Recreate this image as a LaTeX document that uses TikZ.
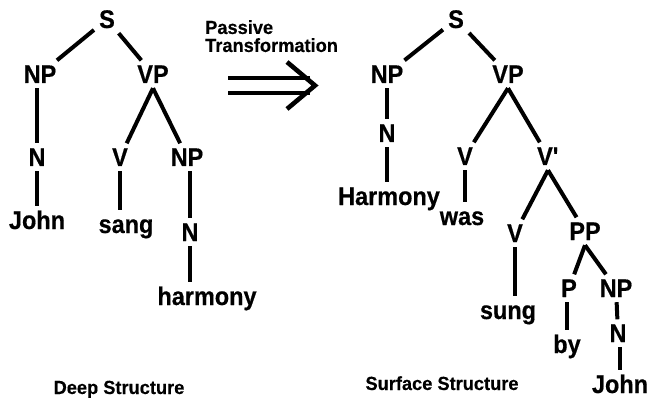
\documentclass[tikz,border=0pt]{standalone}
\usepackage{fontspec}
\setmainfont{Liberation Sans}
\newfontfamily\treefont[FakeStretch=0.92, FakeBold=0.5]{Liberation Sans Bold}
\newfontfamily\notefont[FakeStretch=0.96, FakeBold=0.3]{Liberation Sans Bold}
\begin{document}
\begin{tikzpicture}[x=1pt,y=-1pt,
  tag/.style={font=\fontsize{25.5}{27}\treefont, anchor=base,
    inner xsep=5pt, inner ysep=5pt, text height=17.5pt, text depth=0pt},
  caption/.style={font=\fontsize{19}{21}\notefont, anchor=base, inner sep=0pt},
  branch/.style={line width=4pt},
  arrowbar/.style={line width=4.6pt}]
\useasboundingbox (0,0) rectangle (650,398);

% ---- deep structure ----
\node[tag] (dS)    at (107,28)  {S};
\node[tag] (dNPa)  at (40,83)   {NP};
\node[tag] (dVP)   at (153,83)  {VP};
\node[tag] (dN1)   at (37,166)  {N};
\node[tag] (dV)    at (120,166) {V};
\node[tag] (dNPb)  at (187,166) {NP};
\node[tag] (dJohn) at (37,229)  {John};
\node[tag] (dsang) at (126,233) {sang};
\node[tag] (dN2)   at (190,241) {N};
\node[tag] (dharm) at (207,305) {harmony};
\node[caption] (deep) at (119,394) {Deep Structure};

\draw[branch] (dS) -- (dNPa);
\draw[branch] (dS) -- (dVP);
\draw[branch] (dNPa.south -| dN1) -- (dN1);
\draw[branch] (dVP.south) -- (dV);
\draw[branch] (dVP.south) -- (dNPb);
\draw[branch] (dN1) -- (dJohn);
\draw[branch] (dV.south) -- (dV.south |- dsang.north);
\draw[branch] (dNPb.south -| dN2) -- (dN2.north);
\draw[branch] (dN2.south) -- (dN2.south |- dharm.north);

% ---- transformation arrow ----
\node[font=\fontsize{19}{18}\notefont, align=left, anchor=north west,
  inner sep=0pt] (passive) at (205,20) {Passive\\Transformation};
\draw[arrowbar] (228,78) -- (310,78);
\draw[arrowbar] (228,93) -- (310,93);
\draw[arrowbar, line join=miter] (287,62) -- (315,85.5) -- (287,109);

% ---- surface structure ----
\node[tag] (sS)    at (456,28)  {S};
\node[tag] (sNPa)  at (387,83)  {NP};
\node[tag] (sVP)   at (508,83)  {VP};
\node[tag] (sN1)   at (387,142) {N};
\node[tag] (sV1)   at (465,165) {V};
\node[tag] (sVbar) at (548,165) {V\textquotesingle};
\node[tag] (sHarm) at (389,205) {Harmony};
\node[tag] (swas)  at (462,225) {was};
\node[tag] (sV2)   at (515,242) {V};
\node[tag] (sPP)   at (585,240) {PP};
\node[tag] (ssung) at (508,319) {sung};
\node[tag] (sP)    at (569,297) {P};
\node[tag] (sNPb)  at (616,297) {NP};
\node[tag] (sby)   at (567,353) {by};
\node[tag] (sN2)   at (618,342) {N};
\node[tag] (sJohn) at (620,393) {John};
\node[caption] (surf) at (442,390) {Surface Structure};

\draw[branch] (sS) -- (sNPa);
\draw[branch] (sS) -- (sVP);
\draw[branch] (sNPa) -- (sN1);
\draw[branch] (sN1.south) -- (sN1.south |- sHarm.north);
\draw[branch] (sVP.south) -- (sV1);
\draw[branch] (sVP.south) -- (sVbar);
\draw[branch] (sV1.south) -- (sV1.south |- swas.north);
\draw[branch] (sVbar.south) -- (sV2);
\draw[branch] (sVbar.south) -- (sPP);
\draw[branch] (sV2.south) -- (sV2.south |- ssung.north);
\draw[branch] (sPP.south) -- (sP);
\draw[branch] (sPP.south) -- (sNPb);
\draw[branch] (sP.south -| sby) -- (sby.north);
\draw[branch] (sNPb) -- (sN2);
\draw[branch] (sN2.south -| sJohn) -- (sJohn.north);
\end{tikzpicture}
\end{document}
